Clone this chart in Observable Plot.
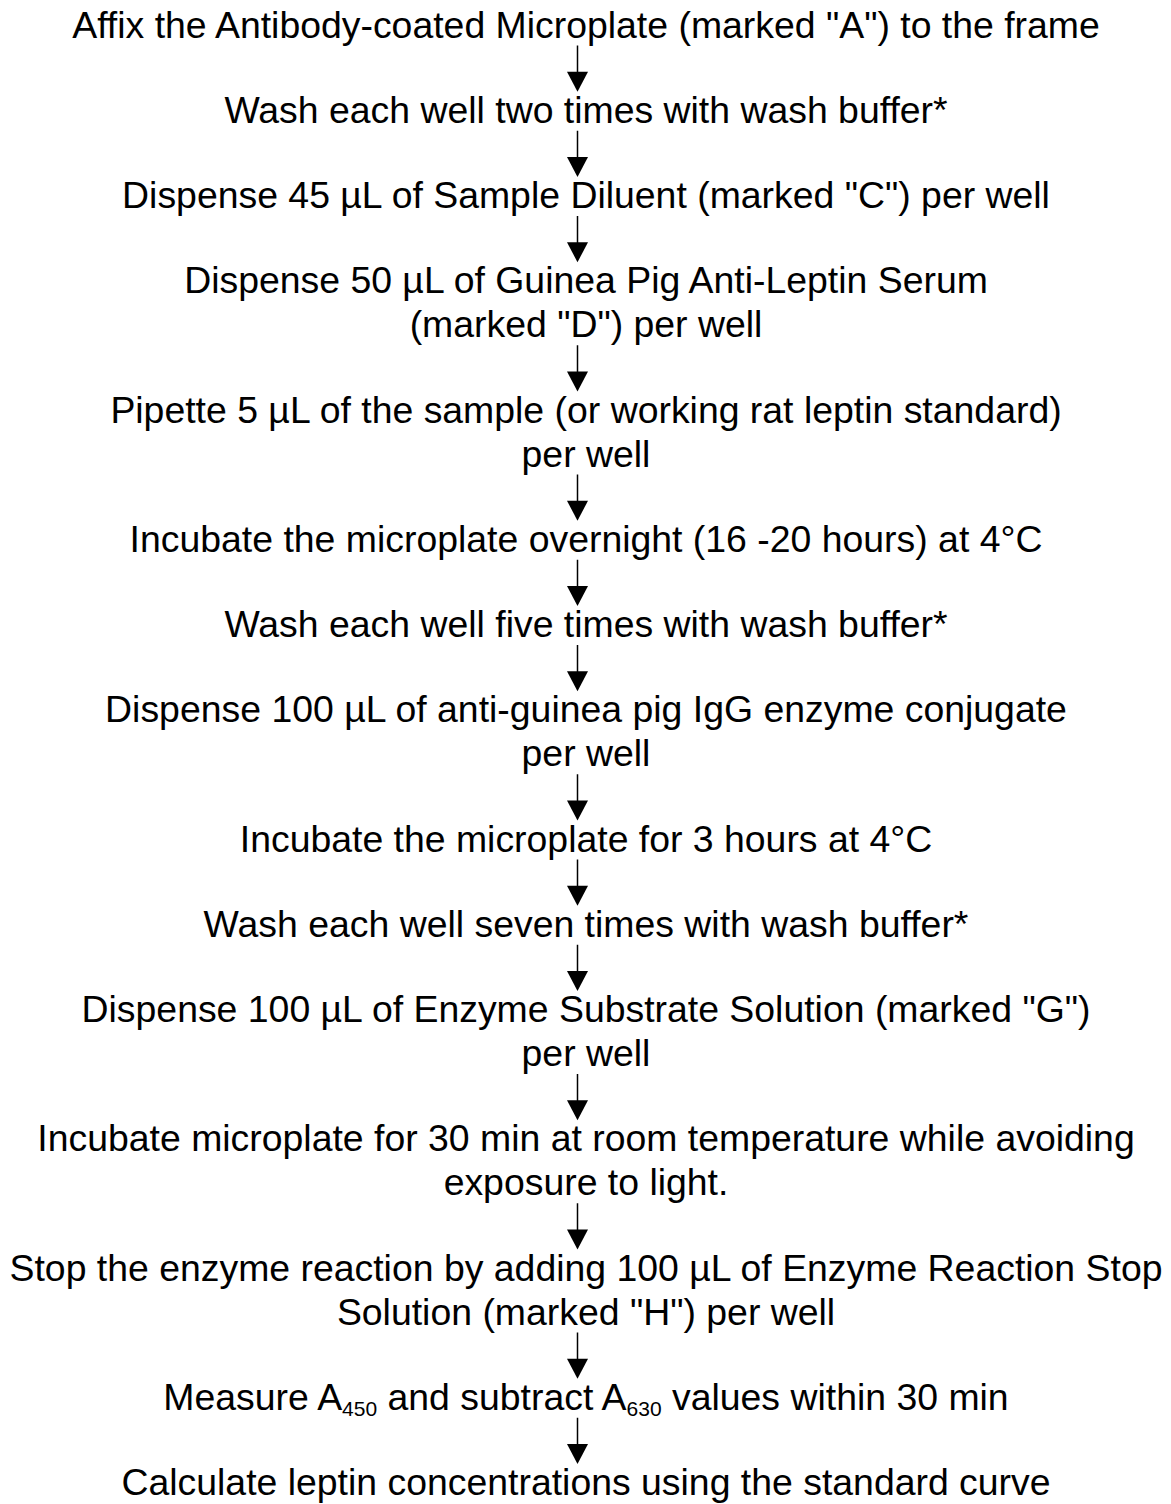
<!DOCTYPE html>
<html><head><meta charset="utf-8">
<script src="https://cdn.jsdelivr.net/npm/d3@7"></script>
<script src="https://cdn.jsdelivr.net/npm/@observablehq/plot@0.6"></script>
<style>body{margin:0;background:#fff}</style>
</head><body><div id="chart"></div>
<script>
// Flowchart steps (each entry = lines of one step)
const steps = [
  ["Affix the Antibody-coated Microplate (marked \"A\") to the frame"],
  ["Wash each well two times with wash buffer*"],
  ["Dispense 45 µL of Sample Diluent (marked \"C\") per well"],
  ["Dispense 50 µL of Guinea Pig Anti-Leptin Serum", "(marked \"D\") per well"],
  ["Pipette 5 µL of the sample (or working rat leptin standard)", "per well"],
  ["Incubate the microplate overnight (16 -20 hours) at 4°C"],
  ["Wash each well five times with wash buffer*"],
  ["Dispense 100 µL of anti-guinea pig IgG enzyme conjugate", "per well"],
  ["Incubate the microplate for 3 hours at 4°C"],
  ["Wash each well seven times with wash buffer*"],
  ["Dispense 100 µL of Enzyme Substrate Solution (marked \"G\")", "per well"],
  ["Incubate microplate for 30 min at room temperature while avoiding", "exposure to light."],
  ["Stop the enzyme reaction by adding 100 µL of Enzyme Reaction Stop", "Solution (marked \"H\") per well"],
  ["Measure A450 and subtract A630 values within 30 min"],
  ["Calculate leptin concentrations using the standard curve"]
];
// Subscripted parts of the measurement step
const subscriptLine = 13;
const subscripts = ["450", "630"];

// Layout parameters
const W = 1171, H = 1504;
const fs = 37.4;
const subFs = 21;
const firstBaseline = 37;
const stepGap = 85.25;
const lineGap = 44;
const centerX = W / 2;
const arrowX = 577;

// Build line table and arrows from the steps
const lines = [];
const stepFirst = [], stepLast = [];
let extra = 0;
steps.forEach((s, i) => {
  s.forEach((t, j) => {
    const y = firstBaseline + i * stepGap + (extra + j) * lineGap;
    if (j === 0) stepFirst.push(y);
    if (j === s.length - 1) stepLast.push(y);
    lines.push({text: t, x: centerX, y, step: i});
  });
  extra += s.length - 1;
});
const arrows = d3.range(steps.length - 1).map(i => ({
  x: arrowX,
  y1: stepLast[i] + 8,
  tip: stepFirst[i + 1] - 31
}));

const downTriangle = {
  draw(ctx) {
    ctx.moveTo(-10.5, -20);
    ctx.lineTo(10.5, -20);
    ctx.lineTo(0, 0);
    ctx.closePath();
  }
};

const chart = Plot.plot({
  width: W, height: H, margin: 0,
  x: {domain: [0, W], range: [0, W], axis: null},
  y: {domain: [0, H], range: [0, H], axis: null},
  style: {background: "#fff"},
  marks: [
    Plot.link(arrows, {x1: "x", x2: "x", y1: "y1", y2: d => d.tip - 19, stroke: "#000", strokeWidth: 1.5}),
    Plot.dot(arrows, {x: "x", y: "tip", symbol: downTriangle, fill: "#000", stroke: "none"}),
    Plot.text(lines, {x: "x", y: "y", text: "text", textAnchor: "middle", lineAnchor: "bottom",
      fontSize: fs, fontFamily: "Liberation Sans, Arial, sans-serif", fill: "#000"})
  ]
});
document.getElementById("chart").appendChild(chart);

// Turn the measurement line's wavelengths into subscripts
const target = steps[subscriptLine][0];
d3.select(chart).selectAll("text").each(function() {
  if (this.textContent !== target) return;
  const el = d3.select(this);
  const parts = [];
  let rest = target;
  subscripts.forEach(sub => {
    const k = rest.indexOf("A" + sub);
    parts.push({t: rest.slice(0, k + 1), sub: false});
    parts.push({t: sub, sub: true});
    rest = rest.slice(k + 1 + sub.length);
  });
  parts.push({t: rest, sub: false});
  el.text(null);
  let shifted = false;
  parts.forEach(p => {
    const ts = el.append("tspan").text(p.t);
    if (p.sub) { ts.attr("font-size", subFs).attr("dy", 6); shifted = true; }
    else if (shifted) { ts.attr("dy", -6); shifted = false; }
  });
});
</script>
</body></html>
